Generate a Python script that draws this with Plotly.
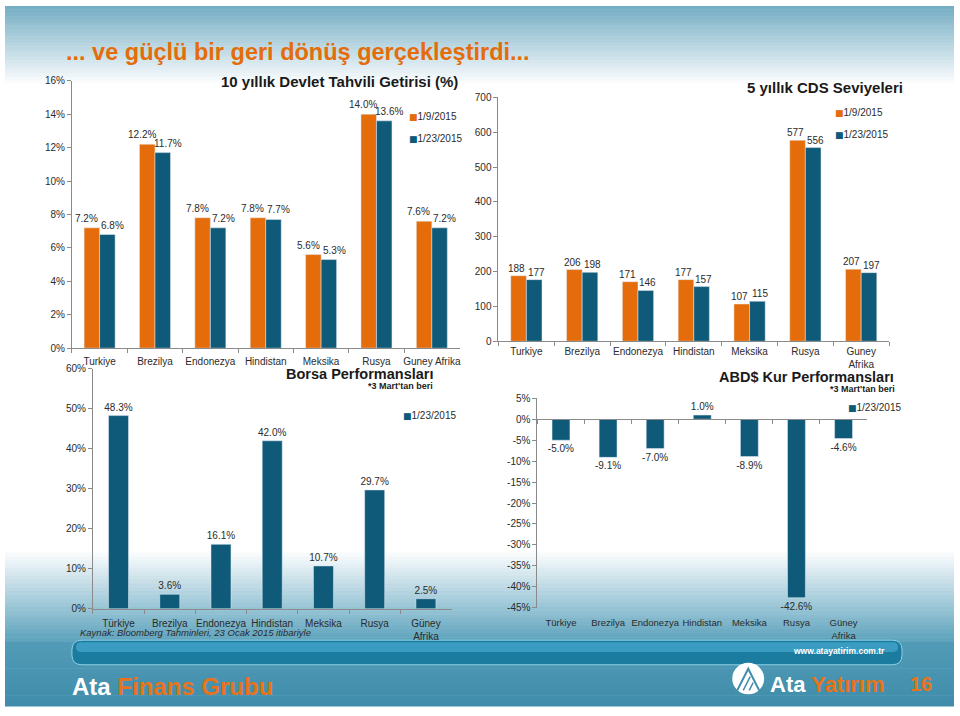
import plotly.graph_objects as go

# ---------------- data ----------------
bond_countries = ["Turkiye", "Brezilya", "Endonezya", "Hindistan", "Meksika", "Rusya", "Guney Afrika"]
bond_jan9 = [7.2, 12.2, 7.8, 7.8, 5.6, 14.0, 7.6]
bond_jan23 = [6.8, 11.7, 7.2, 7.7, 5.3, 13.6, 7.2]
bond_ticks = [0, 2, 4, 6, 8, 10, 12, 14, 16]

cds_countries = ["Turkiye", "Brezilya", "Endonezya", "Hindistan", "Meksika", "Rusya", "Guney<br>Afrika"]
cds_jan9 = [188, 206, 171, 177, 107, 577, 207]
cds_jan23 = [177, 198, 146, 157, 115, 556, 197]
cds_ticks = [0, 100, 200, 300, 400, 500, 600, 700]

stock_countries = ["Türkiye", "Brezilya", "Endonezya", "Hindistan", "Meksika", "Rusya", "Güney<br>Afrika"]
stock_perf = [48.3, 3.6, 16.1, 42.0, 10.7, 29.7, 2.5]
stock_ticks = [0, 10, 20, 30, 40, 50, 60]

fx_countries = ["Türkiye", "Brezilya", "Endonezya", "Hindistan", "Meksika", "Rusya", "Güney<br>Afrika"]
fx_perf = [-5.0, -9.1, -7.0, 1.0, -8.9, -42.6, -4.6]
fx_ticks = [5, 0, -5, -10, -15, -20, -25, -30, -35, -40, -45]

series_names = ["1/9/2015", "1/23/2015"]

# ---------------- style ----------------
ORANGE = "#E46C0A"
TEAL = "#0E5A78"
AXIS = "#8A8A8A"
TXT = "#2B2B2B"
FONT = "Liberation Sans, Arial, sans-serif"
W, H = 960, 716


def px(x):
    return x / W


def py(y):
    return 1 - y / H


def pct(v):
    return f"{v}%"


fig = go.Figure()

# --- chart 1: bond yields ---
fig.add_trace(go.Bar(x=bond_countries, y=bond_jan9, marker_color=ORANGE, name=series_names[0],
                     xaxis="x", yaxis="y"))
fig.add_trace(go.Bar(x=bond_countries, y=bond_jan23, marker_color=TEAL, name=series_names[1],
                     xaxis="x", yaxis="y"))
# --- chart 2: CDS ---
fig.add_trace(go.Bar(x=cds_countries, y=cds_jan9, marker_color=ORANGE, name=series_names[0],
                     xaxis="x2", yaxis="y2"))
fig.add_trace(go.Bar(x=cds_countries, y=cds_jan23, marker_color=TEAL, name=series_names[1],
                     xaxis="x2", yaxis="y2"))
# --- chart 3: stock performance ---
fig.add_trace(go.Bar(x=stock_countries, y=stock_perf, marker_color=TEAL, name=series_names[1],
                     width=0.39, xaxis="x3", yaxis="y3",
                     text=[f"{v:.1f}%" for v in stock_perf], textposition="outside",
                     constraintext="none", cliponaxis=False,
                     textfont=dict(size=10, color=TXT, family=FONT)))
# --- chart 4: FX performance ---
fig.add_trace(go.Bar(x=fx_countries, y=fx_perf, marker_color=TEAL, name=series_names[1],
                     width=0.38, xaxis="x4", yaxis="y4",
                     text=[f"{v:.1f}%" for v in fx_perf], textposition="outside",
                     constraintext="none", cliponaxis=False,
                     textfont=dict(size=10, color=TXT, family=FONT)))
# zero-line axis carrier for chart 4
fig.add_trace(go.Scatter(x=fx_countries, y=[None] * len(fx_countries), xaxis="x5", yaxis="y4",
                         hoverinfo="skip", mode="markers"))

annotations = []
lab_font = dict(size=10, color=TXT, family=FONT)
for i, c in enumerate(bond_countries):
    annotations.append(dict(x=c, y=bond_jan9[i], xref="x", yref="y", text=f"{bond_jan9[i]:.1f}%",
                            showarrow=False, yanchor="bottom", xshift=-13, yshift=2, font=lab_font))
    annotations.append(dict(x=c, y=bond_jan23[i], xref="x", yref="y", text=f"{bond_jan23[i]:.1f}%",
                            showarrow=False, yanchor="bottom", xshift=13, yshift=2, font=lab_font))
for i, c in enumerate(cds_countries):
    annotations.append(dict(x=c, y=cds_jan9[i], xref="x2", yref="y2", text=str(cds_jan9[i]),
                            showarrow=False, yanchor="bottom", xshift=-10, yshift=0, font=lab_font))
    annotations.append(dict(x=c, y=cds_jan23[i], xref="x2", yref="y2", text=str(cds_jan23[i]),
                            showarrow=False, yanchor="bottom", xshift=10, yshift=0, font=lab_font))


def txt(x, y, text, size, color="#1A1A1A", xanchor="center", bold=True, italic=False):
    t = text
    if bold:
        t = f"<b>{t}</b>"
    if italic:
        t = f"<i>{t}</i>"
    annotations.append(dict(x=px(x), y=py(y), xref="paper", yref="paper", text=t, showarrow=False,
                            xanchor=xanchor, yanchor="middle",
                            font=dict(size=size, color=color, family=FONT)))


def legend_item(x, y, color, name):
    annotations.append(dict(x=px(x), y=py(y), xref="paper", yref="paper", showarrow=False,
                            xanchor="left", yanchor="middle",
                            text=f"<span style='color:{color};font-size:9px;font-family:DejaVu Sans'>■</span>{name}",
                            font=dict(size=10, color=TXT, family=FONT)))


txt(64, 47, "... ve güçlü bir geri dönüş gerçekleştirdi...", 23.5, ORANGE, "left")
txt(340, 77, "10 yıllık Devlet Tahvili Getirisi (%)", 15)
txt(826, 83, "5 yıllık CDS Seviyeleri", 15)
txt(435, 374, "Borsa Performansları", 14.5, xanchor="right")
txt(435, 386, "*3 Mart'tan beri", 9, xanchor="right")
txt(897, 377, "ABD$ Kur Performansları", 14.5, xanchor="right")
txt(898, 390, "*3 Mart'tan beri", 9, xanchor="right")
txt(78, 637, "Kaynak: Bloomberg Tahminleri, 23 Ocak 2015 itibariyle", 9.5, TXT, "left", bold=False, italic=True)
txt(888, 656, "www.atayatirim.com.tr", 8.5, "#FFFFFF", "right")
txt(70, 692, "Ata <span style='color:#E8731A'>Finans Grubu</span>", 24, "#FFFFFF", "left")
txt(769, 690, "Ata <span style='color:#E8731A'>Yatırım</span>", 22, "#FFFFFF", "left")
txt(922, 690, "16", 20, "#E8731A")

legend_item(407, 112, ORANGE, series_names[0])
legend_item(407, 135, TEAL, series_names[1])
legend_item(834, 108, ORANGE, series_names[0])
legend_item(834, 131, TEAL, series_names[1])
legend_item(401, 416, TEAL, series_names[1])
legend_item(847, 408, TEAL, series_names[1])

# ---------------- background shapes ----------------
shapes = []


def lerp(c0, c1, t):
    return "rgb(%d,%d,%d)" % tuple(round(a + (b - a) * t) for a, b in zip(c0, c1))


def band(y0, y1, c0, c1, n, x0=5, x1=955):
    step = (y1 - y0) / n
    for k in range(n):
        shapes.append(dict(type="rect", xref="paper", yref="paper", layer="below",
                           x0=px(x0), x1=px(x1), y0=py(y0 + (k + 1) * step + 0.5), y1=py(y0 + k * step),
                           fillcolor=lerp(c0, c1, k / max(n - 1, 1)), line=dict(width=0)))


band(0, 82, (118, 174, 196), (255, 255, 255), 24)
band(552, 646, (255, 255, 255), (96, 164, 190), 24)
band(646, 712, (82, 155, 182), (64, 141, 171), 12)


def rrect(x0, y0, x1, y1, r):
    pts = [f"M{px(x0 + r)},{py(y0)}", f"L{px(x1 - r)},{py(y0)}",
           f"Q{px(x1)},{py(y0)} {px(x1)},{py(y0 + r)}", f"L{px(x1)},{py(y1 - r)}",
           f"Q{px(x1)},{py(y1)} {px(x1 - r)},{py(y1)}", f"L{px(x0 + r)},{py(y1)}",
           f"Q{px(x0)},{py(y1)} {px(x0)},{py(y1 - r)}", f"L{px(x0)},{py(y0 + r)}",
           f"Q{px(x0)},{py(y0)} {px(x0 + r)},{py(y0)}", "Z"]
    return " ".join(pts)


shapes.append(dict(type="path", xref="paper", yref="paper", layer="below",
                   path=rrect(72, 645, 903, 670, 10), fillcolor="#1B7CA0",
                   line=dict(color="#8FD0E6", width=1)))
shapes.append(dict(type="path", xref="paper", yref="paper", layer="below",
                   path=rrect(76, 647, 899, 657, 5), fillcolor="#3A9CC0", line=dict(width=0)))
# logo
shapes.append(dict(type="circle", xref="paper", yref="paper", x0=px(733), x1=px(765), y0=py(700), y1=py(668),
                   fillcolor="#FFFFFF", line=dict(width=0)))
shapes.append(dict(type="path", xref="paper", yref="paper",
                   path=f"M{px(738)},{py(696)} L{px(749)},{py(674)} L{px(760)},{py(696)}",
                   line=dict(color="#3F8DAD", width=2)))
shapes.append(dict(type="path", xref="paper", yref="paper",
                   path=f"M{px(744)},{py(696)} L{px(751)},{py(682)} M{px(750)},{py(696)} L{px(754)},{py(688)}",
                   line=dict(color="#3F8DAD", width=1.5)))

# ---------------- axes ----------------
tick_font = dict(size=10, color=TXT, family=FONT)
cat_font = dict(size=10, color=TXT, family=FONT)
cat_font_small = dict(size=9.5, color=TXT, family=FONT)
common_x = dict(showline=True, linecolor=AXIS, linewidth=1, ticks="outside", tickson="boundaries",
                ticklen=4, tickcolor=AXIS, tickangle=0, showgrid=False, zeroline=False,
                fixedrange=True)
common_y = dict(showline=True, linecolor=AXIS, linewidth=1, ticks="outside", ticklen=4, tickcolor=AXIS,
                tickfont=tick_font, showgrid=False, zeroline=False, fixedrange=True)

fx_dom = [py(612), py(399)]
fx_rng = [-45, 5]
zero_pos = fx_dom[0] + (0 - fx_rng[0]) / (fx_rng[1] - fx_rng[0]) * (fx_dom[1] - fx_dom[0])

fig.update_layout(
    width=W, height=H, margin=dict(l=0, r=0, t=0, b=0),
    paper_bgcolor="#FFFFFF", plot_bgcolor="rgba(0,0,0,0)",
    font=dict(family=FONT, color=TXT),
    showlegend=False,
    barmode="group", bargap=0.44, bargroupgap=0,
    xaxis=dict(domain=[px(72), px(460)], anchor="y", tickfont=cat_font, ticklabelstandoff=4, **common_x),
    yaxis=dict(domain=[py(348), py(76)], anchor="x", range=[0, 16],
               tickvals=bond_ticks, ticktext=[pct(v) for v in bond_ticks], **common_y),
    xaxis2=dict(domain=[px(499), px(890)], anchor="y2", tickfont=cat_font, ticklabelstandoff=1, **common_x),
    yaxis2=dict(domain=[py(341), py(93)], anchor="x2", range=[0, 700],
                tickvals=cds_ticks, ticktext=[str(v) for v in cds_ticks], **common_y),
    xaxis3=dict(domain=[px(93), px(452)], anchor="y3", tickfont=cat_font, ticklabelstandoff=5, **common_x),
    yaxis3=dict(domain=[py(613), py(369)], anchor="x3", range=[0, 60],
                tickvals=stock_ticks, ticktext=[pct(v) for v in stock_ticks], **common_y),
    xaxis4=dict(domain=[px(538), px(868)], anchor="y4", showline=False, ticks="", tickfont=cat_font_small,
                ticklabelstandoff=8, tickangle=0, showgrid=False, zeroline=False, range=[-0.5, 6.5],
                fixedrange=True),
    yaxis4=dict(domain=fx_dom, anchor="x4", range=fx_rng,
                tickvals=fx_ticks, ticktext=[pct(v) for v in fx_ticks], **common_y),
    xaxis5=dict(overlaying="x4", anchor="free", position=zero_pos, domain=[px(538), px(868)],
                showline=True, linecolor=AXIS, linewidth=1, ticks="outside", tickson="boundaries",
                ticklen=4, tickcolor=AXIS, showticklabels=False, showgrid=False, zeroline=False,
                range=[-0.5, 6.5], fixedrange=True),
    annotations=annotations,
    shapes=shapes,
)

fig.write_html("out.html", config={"displayModeBar": False},
               post_script="document.body.style.margin='0';document.body.style.overflow='hidden';")
